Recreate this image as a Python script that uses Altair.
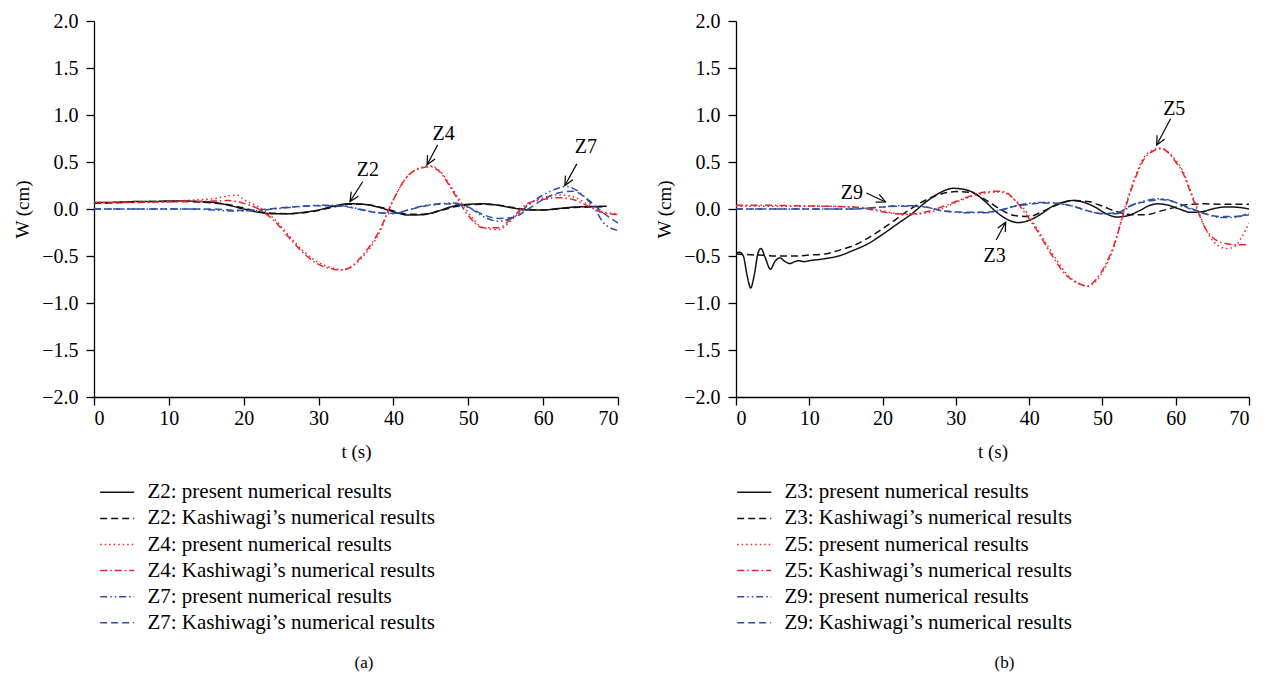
import math
import altair as alt
import pandas as pd

FONT = "Liberation Serif"
H = 376
W_A = 524
W_B = 513
T_RANGE = [0, 70]
W_RANGE = [-2, 2]
X_TICKS = list(range(0, 71, 5))
Y_TICKS = [i * 0.25 for i in range(-8, 9)]

RED = "#e8242b"
BLUE = "#2e4fa3"
BLACK = "#111111"

# ---------------- panel (a) ----------------
A_NAMES = [
    "Z2: present numerical results",
    "Z2: Kashiwagi\u2019s numerical results",
    "Z4: present numerical results",
    "Z4: Kashiwagi\u2019s numerical results",
    "Z7: present numerical results",
    "Z7: Kashiwagi\u2019s numerical results",
]
T_Z2P = [0, 2, 4, 6, 8, 10, 12, 14, 16, 18, 20, 22, 24, 26, 28, 30, 32, 34, 36, 38,
         40, 42, 44, 46, 48, 50, 52, 54, 56, 58, 60, 62, 64, 66, 68.5]
W_Z2P = [0.07, 0.07, 0.075, 0.08, 0.08, 0.085, 0.085, 0.08, 0.07, 0.04,
         0.0, -0.035, -0.05, -0.05, -0.035, -0.01, 0.03, 0.056, 0.05, 0.02,
         -0.03, -0.065, -0.06, -0.02, 0.03, 0.05, 0.055, 0.04, 0.01, -0.01,
         -0.01, 0.005, 0.02, 0.025, 0.03]
T_Z2K = list(range(0, 69, 2))
W_Z2K = [0.06, 0.065, 0.07, 0.075, 0.08, 0.08, 0.08, 0.075, 0.065, 0.045,
         0.01, -0.03, -0.045, -0.05, -0.04, -0.015, 0.02, 0.05, 0.05, 0.025,
         -0.02, -0.055, -0.055, -0.025, 0.02, 0.045, 0.05, 0.04, 0.015, -0.005,
         -0.01, 0.0, 0.015, 0.02, 0.025]
T_Z4P = [0, 2, 4, 6, 8, 10, 12, 14, 16, 18, 19, 20, 22, 24, 26, 28, 30, 32, 33, 34, 36,
         38, 40, 42, 44, 45, 46, 48, 50, 52, 54, 56, 58, 60, 62, 64, 66, 68, 70]
W_Z4P = [0.07, 0.07, 0.07, 0.08, 0.07, 0.08, 0.09, 0.1, 0.11, 0.14, 0.15,
         0.1, 0.02, -0.1, -0.28, -0.45, -0.57, -0.63, -0.645, -0.63, -0.5,
         -0.27, 0.1, 0.36, 0.45, 0.46, 0.42, 0.2, -0.04, -0.2, -0.22,
         -0.1, 0.05, 0.12, 0.15, 0.13, 0.05, -0.03, -0.05]
T_Z4K = [0, 2, 4, 6, 8, 10, 12, 14, 16, 18, 20, 22, 24, 26, 28, 30, 32, 33, 34, 36, 38,
         40, 42, 44, 45, 46, 48, 50, 52, 54, 56, 58, 60, 62, 64, 66, 68, 70]
W_Z4K = [0.07, 0.07, 0.07, 0.07, 0.075, 0.075, 0.08, 0.08, 0.085, 0.09,
         0.06, 0.0, -0.12, -0.3, -0.47, -0.59, -0.64, -0.65, -0.63, -0.48, -0.25,
         0.1, 0.36, 0.44, 0.45, 0.41, 0.18, -0.07, -0.2, -0.2,
         -0.08, 0.06, 0.1, 0.12, 0.1, 0.03, -0.04, -0.06]
T_Z7P = [0, 4, 8, 12, 16, 18, 20, 22, 24, 26, 28, 30, 32, 34, 36, 38, 40, 42, 44, 46,
         48, 50, 52, 54, 56, 58, 60, 62, 63, 64, 66, 67, 68, 70]
W_Z7P = [0.0, 0.0, 0.0, 0.0, -0.01, -0.02, -0.02, -0.015, 0.0, 0.015,
         0.03, 0.04, 0.04, 0.025, -0.01, -0.04, -0.05, -0.01, 0.035, 0.055,
         0.065, 0.02, -0.08, -0.13, -0.09, 0.04, 0.15, 0.22, 0.24, 0.22,
         0.09, -0.01, -0.14, -0.23]
T_Z7K = [0, 4, 8, 12, 16, 18, 20, 22, 24, 26, 28, 30, 32, 34, 36, 38, 40, 42, 44, 46,
         48, 50, 52, 54, 56, 58, 60, 62, 64, 66, 68, 70]
W_Z7K = [0.0, 0.0, 0.0, 0.0, 0.0, -0.01, -0.015, -0.01, 0.005, 0.02,
         0.03, 0.035, 0.035, 0.02, -0.015, -0.04, -0.045, -0.01, 0.03, 0.05,
         0.055, 0.02, -0.06, -0.1, -0.09, 0.0, 0.1, 0.17, 0.19, 0.1,
         -0.04, -0.15]

ANN_A_LABEL = ["Z2", "Z4", "Z7"]
ANN_A_TX = [36.6, 46.7, 65.7]
ANN_A_TY = [0.42, 0.80, 0.66]
ANN_A_X1 = [35.9, 45.9, 64.5]
ANN_A_Y1 = [0.29, 0.68, 0.48]
ANN_A_X2 = [34.2, 44.5, 62.9]
ANN_A_Y2 = [0.08, 0.47, 0.25]

# ---------------- panel (b) ----------------
B_NAMES = [
    "Z3: present numerical results",
    "Z3: Kashiwagi\u2019s numerical results",
    "Z5: present numerical results",
    "Z5: Kashiwagi\u2019s numerical results",
    "Z9: present numerical results",
    "Z9: Kashiwagi\u2019s numerical results",
]
T_Z3P = [0, 0.5, 1, 1.5, 2, 2.5, 3, 3.4, 4, 4.7, 5.3, 6, 6.7, 7.4, 8, 8.6, 9.3, 10, 12, 14,
         16, 18, 20, 22, 24, 26, 28, 29.6, 31, 32.5, 34, 35.5, 37, 38.5, 40, 41.5, 43, 44.5,
         46, 47.5, 49, 50.5, 52, 53.5, 55, 56.5, 57.5, 59, 60.5, 62, 63.5, 65, 66.5, 68, 70]
W_Z3P = [-0.47, -0.46, -0.5, -0.7, -0.84, -0.7, -0.47, -0.42, -0.52, -0.64,
         -0.56, -0.52, -0.56, -0.58, -0.56, -0.55, -0.56, -0.55, -0.53, -0.5,
         -0.44, -0.37, -0.27, -0.16, -0.05, 0.08, 0.18, 0.22, 0.21, 0.17,
         0.08, -0.03, -0.11, -0.145, -0.12, -0.06, 0.02, 0.07, 0.09, 0.07,
         0.02, -0.05, -0.085, -0.07, -0.02, 0.04, 0.055, 0.04, 0.0, -0.035,
         -0.03, 0.0, 0.02, 0.02, 0.0]
T_Z3K = [0, 3, 6, 8, 10, 12, 14, 16, 18, 20, 22, 24, 26, 28, 30, 32, 34, 36, 38, 40,
         42, 44, 46, 48, 50, 52, 54, 56, 58, 60, 62, 64, 66, 68, 70]
W_Z3K = [-0.48, -0.49, -0.5, -0.5, -0.49, -0.48, -0.44, -0.39, -0.31, -0.21,
         -0.1, 0.01, 0.1, 0.16, 0.185, 0.175, 0.1, 0.0, -0.07, -0.08,
         -0.02, 0.05, 0.09, 0.08, 0.03, -0.03, -0.06, -0.06, -0.02, 0.02,
         0.05, 0.055, 0.05, 0.05, 0.05]
T_Z5 = [0, 4, 8, 12, 16, 18, 20, 22, 24, 26, 28, 30, 32, 34, 36, 37, 38, 39.5, 41, 43,
        45, 47, 48, 49, 50.5, 51.5, 53, 54.5, 55.6, 57, 58, 59, 60, 61, 62, 63, 64, 65,
        66, 67, 68, 69, 70]
W_Z5P = [0.03, 0.03, 0.03, 0.03, 0.02, 0.01, -0.02, -0.05, -0.06, -0.04,
         0.0, 0.07, 0.13, 0.17, 0.18, 0.16, 0.1, -0.02, -0.2, -0.45,
         -0.68, -0.8, -0.82, -0.78, -0.6, -0.42, 0.0, 0.35, 0.54, 0.63,
         0.65, 0.6, 0.52, 0.4, 0.2, 0.0, -0.2, -0.33, -0.4, -0.42,
         -0.4, -0.3, -0.15]
W_Z5K = [0.04, 0.04, 0.035, 0.03, 0.02, 0.0, -0.03, -0.05, -0.05, -0.03,
         0.02, 0.08, 0.14, 0.18, 0.19, 0.17, 0.1, -0.05, -0.22, -0.48,
         -0.7, -0.8, -0.82, -0.76, -0.58, -0.4, -0.02, 0.33, 0.52, 0.62,
         0.64, 0.6, 0.5, 0.38, 0.18, -0.02, -0.2, -0.3, -0.35, -0.37,
         -0.38, -0.38, -0.38]
T_Z9 = [0, 4, 8, 12, 16, 18, 20, 22, 24, 26, 28, 30, 32, 34, 36, 38, 40, 42, 44, 46,
        48, 50, 52, 54, 56, 58, 60, 62, 64, 66, 68, 70]
W_Z9P = [0.0, 0.0, 0.0, 0.0, 0.0, 0.01, 0.02, 0.035, 0.035, 0.02,
         -0.02, -0.035, -0.04, -0.04, -0.015, 0.03, 0.06, 0.07, 0.06, 0.03,
         -0.02, -0.05, -0.05, 0.04, 0.09, 0.11, 0.07, 0.0, -0.05, -0.09,
         -0.09, -0.04]
W_Z9K = [0.0, 0.0, 0.0, 0.0, 0.0, 0.01, 0.02, 0.03, 0.03, 0.02,
         -0.015, -0.03, -0.035, -0.035, -0.01, 0.03, 0.05, 0.065, 0.06, 0.03,
         -0.02, -0.05, -0.04, 0.04, 0.08, 0.1, 0.07, 0.01, -0.05, -0.08,
         -0.08, -0.06]

ANN_B_LABEL = ["Z9", "Z3", "Z5"]
ANN_B_TX = [15.8, 35.3, 59.8]
ANN_B_TY = [0.17, -0.50, 1.06]
ANN_B_X1 = [17.8, 35.5, 59.3]
ANN_B_Y1 = [0.17, -0.33, 0.96]
ANN_B_X2 = [20.4, 36.8, 57.4]
ANN_B_Y2 = [0.075, -0.14, 0.68]

COLORS = [BLACK, BLACK, RED, RED, BLUE, BLUE]
DASHES = [[1, 0], [7, 4], [1.5, 3], [7, 3, 1.5, 3], [7, 3, 1.5, 3, 1.5, 3], [7, 4]]
CHEVRON = "M -0.55 -1.15 L 0 0 L 0.55 -1.15"
LEGEND_LINE = "M -1.5 0 L 1.5 0"


def panel(names, series, ann, width, caption, legend_x, cap_shift):
    rows = []
    for name, (ts, ws) in zip(names, series):
        for t, w in zip(ts, ws):
            rows.append({"series": name, "t": t, "W": w})
    df = pd.DataFrame(rows)

    lab, tx, ty, x1, y1, x2, y2 = ann
    px_t = width / (T_RANGE[1] - T_RANGE[0])
    px_w = H / (W_RANGE[1] - W_RANGE[0])
    angs = []
    for a, b, c, d in zip(x1, y1, x2, y2):
        dx = (c - a) * px_t
        dy = -(d - b) * px_w
        angs.append(math.degrees(math.atan2(-dx, dy)) % 360)
    tdf = pd.DataFrame({"label": lab, "t": tx, "W": ty})
    sdf = pd.DataFrame({"t": x1, "W": y1, "t2": x2, "W2": y2})
    hdf = pd.DataFrame({"t": x2, "W": y2, "ang": angs})

    legend = alt.Legend(
        orient="none", legendX=legend_x, legendY=458.8, title=None,
        symbolType=LEGEND_LINE, symbolSize=514, symbolStrokeWidth=1.5,
        labelFont=FONT, labelFontSize=21, labelColor="black",
        rowPadding=3.1, labelOffset=17.7, direction="vertical", labelLimit=500,
    )
    x_axis = alt.Axis(
        values=X_TICKS, format="d",
        labelExpr="datum.value % 10 === 0 ? datum.label : ''",
        title="t (s)", tickSize=8, labelPadding=3, titlePadding=14,
        tickDash={"condition": {"test": "datum.value % 10 !== 0", "value": [4, 30]},
                  "value": [8, 30]},
    )
    y_axis = alt.Axis(
        values=Y_TICKS, format=".1f",
        labelExpr="abs(datum.value*2 - round(datum.value*2)) < 0.01 ? datum.label : ''",
        title="W (cm)", tickSize=8, labelPadding=8, titlePadding=9,
        tickDash={"condition": {"test": "abs(datum.value*2 - round(datum.value*2)) > 0.01",
                                "value": [4, 30]},
                  "value": [8, 30]},
    )
    xs = alt.Scale(domain=T_RANGE, nice=False)
    ys = alt.Scale(domain=W_RANGE, nice=False)

    lines = alt.Chart(df).mark_line(interpolate="monotone", clip=True, strokeWidth=1.5).encode(
        x=alt.X("t:Q", scale=xs, axis=x_axis),
        y=alt.Y("W:Q", scale=ys, axis=y_axis),
        color=alt.Color("series:N", scale=alt.Scale(domain=names, range=COLORS), legend=legend),
        strokeDash=alt.StrokeDash("series:N", scale=alt.Scale(domain=names, range=DASHES), legend=legend),
    )
    texts = alt.Chart(tdf).mark_text(font=FONT, fontSize=20, color="black").encode(
        x=alt.X("t:Q", scale=xs),
        y=alt.Y("W:Q", scale=ys),
        text="label:N",
    )
    shafts = alt.Chart(sdf).mark_rule(color="black", strokeWidth=1.2).encode(
        x=alt.X("t:Q", scale=xs),
        y=alt.Y("W:Q", scale=ys),
        x2="t2:Q", y2="W2:Q",
    )
    heads = alt.Chart(hdf).mark_point(shape=CHEVRON, filled=False, color="black",
                                      size=240, strokeWidth=1.2, opacity=1).encode(
        x=alt.X("t:Q", scale=xs),
        y=alt.Y("W:Q", scale=ys),
        angle=alt.Angle("ang:Q", scale=None),
    )
    cap = alt.Chart(pd.DataFrame({"cap": [caption]})).mark_text(
        font=FONT, fontSize=17, color="black").encode(
        x=alt.value(width / 2 + cap_shift), y=alt.value(642), text="cap:N")
    return alt.layer(lines, shafts, heads, texts, cap).properties(width=width, height=H)


pa = panel(A_NAMES,
           [(T_Z2P, W_Z2P), (T_Z2K, W_Z2K), (T_Z4P, W_Z4P), (T_Z4K, W_Z4K),
            (T_Z7P, W_Z7P), (T_Z7K, W_Z7K)],
           (ANN_A_LABEL, ANN_A_TX, ANN_A_TY, ANN_A_X1, ANN_A_Y1, ANN_A_X2, ANN_A_Y2),
           W_A, "(a)", 10.7, 8)
pb = panel(B_NAMES,
           [(T_Z3P, W_Z3P), (T_Z3K, W_Z3K), (T_Z5, W_Z5P), (T_Z5, W_Z5K),
            (T_Z9, W_Z9P), (T_Z9, W_Z9K)],
           (ANN_B_LABEL, ANN_B_TX, ANN_B_TY, ANN_B_X1, ANN_B_Y1, ANN_B_X2, ANN_B_Y2),
           W_B, "(b)", 5.7, 12)

chart = alt.hconcat(
    pa, pb, spacing=36, background="white",
    padding={"left": 5, "right": 5, "top": 3, "bottom": 5},
).resolve_scale(
    color="independent", strokeDash="independent"
).resolve_legend(color="independent", strokeDash="independent").configure_view(
    strokeWidth=0
).configure_axis(
    labelFont=FONT, labelFontSize=20, labelColor="black",
    titleFont=FONT, titleFontSize=19, titleFontWeight="normal", titleColor="black",
    domainColor="black", domainWidth=1.3, tickColor="black", tickWidth=1.3, grid=False,
)

chart.save("out.html", embed_options={"renderer": "svg", "actions": False})
